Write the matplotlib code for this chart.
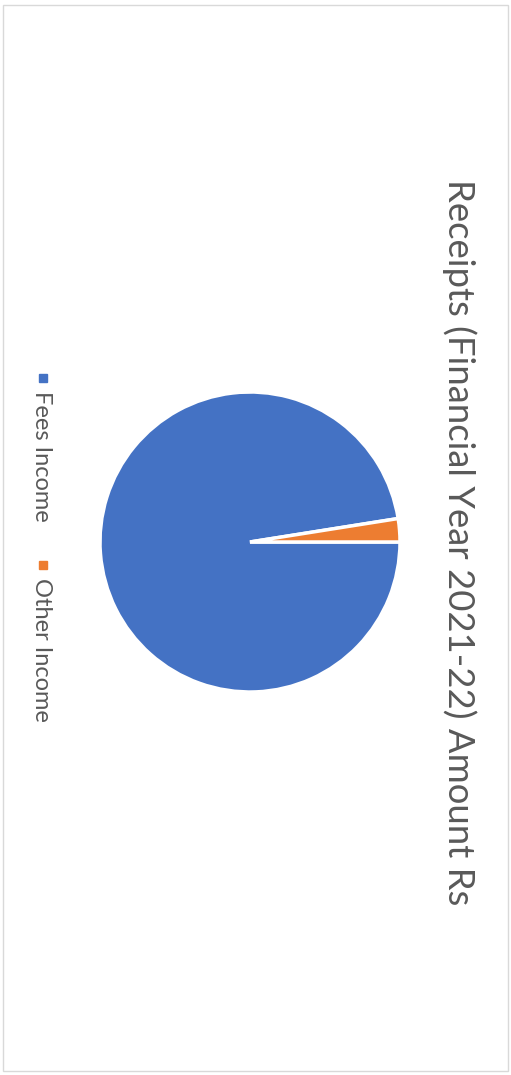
import matplotlib.pyplot as plt
from matplotlib.patches import Rectangle

labels = ['Fees Income', 'Other Income']
values = [97.5, 2.5]
colors = ['#4472C4', '#ED7D31']
title = 'Receipts (Financial Year 2021-22) Amount Rs'

W, H = 511, 1075
fig = plt.figure(figsize=(W / 100, H / 100), dpi=100)
fig.patch.set_facecolor('white')
font = ['Lato', 'DejaVu Sans']

# light chart border
fig.add_artist(Rectangle((3 / W, 4 / H), 505 / W, 1066 / H, transform=fig.transFigure,
                         fill=False, edgecolor='#D9D9D9', linewidth=1))

# pie (chart is rotated 90 degrees clockwise)
cx, cy, r = 250, 542, 150
ax = fig.add_axes([(cx - r) / W, (H - cy - r) / H, 2 * r / W, 2 * r / H])
ax.pie(values, colors=colors, startangle=0, counterclock=False,
       wedgeprops=dict(edgecolor='white', linewidth=2.5))
ax.set_xlim(-1.0, 1.0)
ax.set_ylim(-1.0, 1.0)
ax.set_aspect('equal')
ax.axis('off')

fig.text(459 / W, 1 - 542 / H, title, rotation=-90, ha='center', va='center',
         fontsize=26.3, color='#595959', family=font)

# legend
leg_y = [391, 578]
for lab, col, y in zip(labels, colors, leg_y):
    fig.add_artist(Rectangle((39 / W, 1 - (y - 9) / H), 8 / W, 8 / H,
                             transform=fig.transFigure, color=col))
    fig.text(41 / W, 1 - y / H, lab, rotation=-90, ha='center', va='top',
             fontsize=17, color='#595959', family=font)

fig.savefig('out.png', dpi=100)
